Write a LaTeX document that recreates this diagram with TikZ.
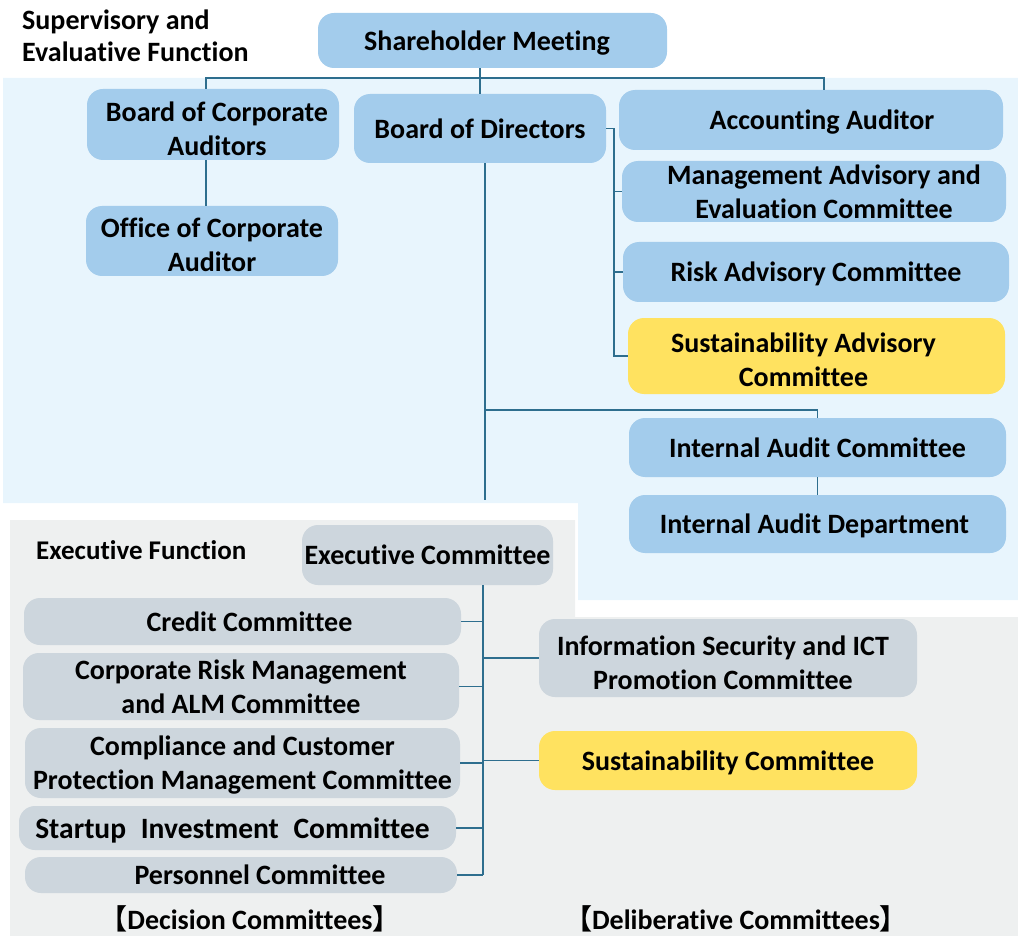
\documentclass[tikz,border=0pt]{standalone}
\usepackage{fontspec}
\setmainfont{Carlito}[Ligatures={NoCommon}]
\newfontfamily\cjk{Noto Sans CJK JP}[BoldFont={Noto Sans CJK JP Bold}]
\definecolor{nodeblue}{RGB}{163,204,236}
\definecolor{nodeyellow}{RGB}{255,226,96}
\definecolor{nodegrey}{RGB}{205,214,221}
\definecolor{bgblue}{RGB}{232,245,253}
\definecolor{bggrey}{RGB}{238,240,240}
\definecolor{linec}{RGB}{46,110,142}
\begin{document}
\begin{tikzpicture}[x=1pt,y=-1pt,
  box/.style={rounded corners=16pt, inner sep=0pt, align=center, text depth=0pt,
    font=\fontsize{28}{34}\selectfont\bfseries, text=black},
  bluebox/.style={box, fill=nodeblue},
  yellowbox/.style={box, fill=nodeyellow},
  greybox/.style={box, fill=nodegrey},
  wh/.style 2 args={minimum width=#1, minimum height=#2},
  lbl/.style={inner sep=0pt, font=\fontsize{28}{32}\selectfont\bfseries, text=black},
  conn/.style={draw=linec, line width=1.2pt}
]
\useasboundingbox (0,0) rectangle (1018,936);
% backgrounds
\fill[bgblue] (3,78) -- (1018,78) -- (1018,600) -- (578,600) -- (578,503) -- (3,503) -- cycle;
\fill[bggrey] (10,520) -- (575,520) -- (575,617) -- (1018,617) -- (1018,936) -- (10,936) -- cycle;

% labels
\node[lbl, align=left, anchor=west] (sup) at (22,35.5) {Supervisory and\\Evaluative Function};
\node[lbl, anchor=base west, font=\fontsize{27}{32}\selectfont\bfseries] (exf) at (36,559) {Executive Function};
\node[lbl, anchor=base] (dec) at (250,929) {{\cjk 【}Decision Committees{\cjk 】}};
\node[lbl, anchor=base] (del) at (736,929) {{\cjk 【}Deliberative Committees{\cjk 】}};

% supervisory nodes
\node[bluebox, wh={349}{55}] (sh) at (492.5,40.5) {Shareholder Meeting\hspace*{11pt}};
\node[bluebox, wh={252}{71}] (bca) at (213,124.5) {\rule{0pt}{29pt}\hspace*{8pt}Board of Corporate\\\hspace*{8pt}Auditors};
\node[bluebox, wh={252}{70}] (oca) at (212,241) {\rule{0pt}{27pt}Office of Corporate\\Auditor};
\node[bluebox, wh={252}{69}] (bod) at (480,128.5) {Board of Directors};
\node[bluebox, wh={384}{60}] (acc) at (811,120) {\hspace*{22pt}Accounting Auditor};
\node[bluebox, wh={384}{61}] (mae) at (814,191.5) {\hspace*{20pt}Management Advisory and\\\hspace*{20pt}Evaluation Committee};
\node[bluebox, wh={386}{60}] (rac) at (816,272) {Risk Advisory Committee};
\node[yellowbox, wh={377}{76}] (sac) at (816.5,356) {\rule{0pt}{27pt}Sustainability Advisory\hspace*{26pt}\\Committee\hspace*{26pt}};
\node[bluebox, wh={377}{59}] (iac) at (817.5,447.5) {Internal Audit Committee};
\node[bluebox, wh={377}{58}] (iad) at (817.5,524) {Internal Audit Department\hspace*{6pt}};

% executive nodes
\node[greybox, wh={251}{60}] (exc) at (427.5,555) {Executive Committee};
\node[greybox, wh={437}{47}] (cred) at (242.5,621.5) {\hspace*{14pt}Credit Committee};
\node[greybox, wh={436}{67}] (crm) at (241,686.5) {Corporate Risk Management\\and ALM Committee};
\node[greybox, wh={435}{70}] (comp) at (242.5,763) {Compliance and Customer\\Protection Management Committee};
\node[greybox, wh={437}{44}, font=\fontsize{29.5}{34}\selectfont\bfseries] (start) at (237.5,828) {Startup\hspace{8pt} Investment\hspace{8pt} Committee\hspace*{10pt}};
\node[greybox, wh={432}{36}] (pers) at (241,875) {\hspace*{38pt}Personnel Committee};
\node[greybox, wh={378}{78}] (isc) at (728,658) {\rule{0pt}{29pt}Information Security and ICT\hspace*{10pt}\\Promotion Committee\hspace*{10pt}};
\node[yellowbox, wh={378}{59}] (sc) at (728,760.5) {Sustainability Committee};

% connectors
\coordinate (tl) at (206,78);
\coordinate (tr) at (824,78);
\draw[conn] (bca.north -| tl) -- (tl) -- (tr) -- (acc.north -| tr);
\draw[conn] (sh.south -| bod.north) -- (bod.north);
\draw[conn] (bca.south -| tl) -- (oca.north -| tl);

\coordinate (br) at (614,128.5);
\draw[conn] (bod.east) -- (br) |- (sac.west);
\draw[conn] (br |- mae.west) -- (mae.west);
\draw[conn] (br |- rac.west) -- (rac.west);

\coordinate (bv) at (485,163);
\coordinate (bend) at (485,500);
\coordinate (ib) at (485,410);
\draw[conn] (bod.south -| bv) -- (bend);
\draw[conn] (ib) -| (iac.north);
\draw[conn] (iac.south) -- (iad.north);

\coordinate (ev) at (483,585);
\draw[conn] (exc.south -| ev) -- (pers.east -| ev);
\draw[conn] (cred.east) -- (cred.east -| ev);
\draw[conn] (crm.east) -- (crm.east -| ev);
\draw[conn] (comp.east) -- (comp.east -| ev);
\draw[conn] (start.east) -- (start.east -| ev);
\draw[conn] (pers.east) -- (pers.east -| ev);
\draw[conn] (isc.west -| ev) -- (isc.west);
\draw[conn] (sc.west -| ev) -- (sc.west);
\end{tikzpicture}
\end{document}
